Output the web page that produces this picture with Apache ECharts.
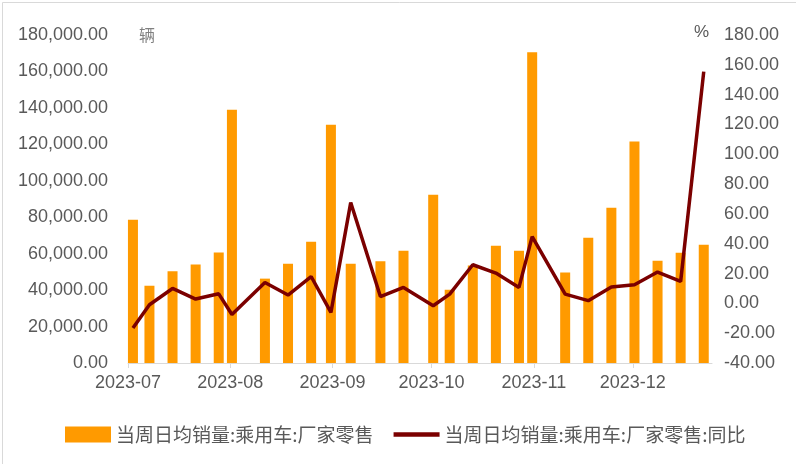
<!DOCTYPE html>
<html>
<head>
<meta charset="utf-8">
<script src="https://cdn.jsdelivr.net/npm/echarts@6/dist/echarts.min.js"></script>
<style>
html,body{margin:0;padding:0;background:#fff;}
#main{width:796px;height:464px;}
</style>
</head>
<body>
<div id="main"></div>
<script>
// Week-end dates (x positions on a date axis)
const dates = ['2023-07-02','2023-07-07','2023-07-14','2023-07-21','2023-07-28','2023-08-01',
  '2023-08-11','2023-08-18','2023-08-25','2023-08-31','2023-09-06','2023-09-15','2023-09-22',
  '2023-10-01','2023-10-06','2023-10-13','2023-10-20','2023-10-27','2023-10-31','2023-11-10',
  '2023-11-17','2023-11-24','2023-12-01','2023-12-08','2023-12-15','2023-12-22'];
// 当周日均销量:乘用车:厂家零售 (辆)
const sales = [78600, 42400, 50300, 54000, 60700, 139000,
  46300, 54500, 66600, 130800, 54500, 55800, 61600,
  92400, 40200, 53500, 64400, 61600, 170500, 49600,
  68800, 85200, 121500, 56100, 60500, 64900];
// 当周日均销量:乘用车:厂家零售:同比 (%)
const yoy = [-16.6, -0.9, 10.0, 2.9, 6.4, -7.5,
  14.0, 5.6, 18.0, -6.1, 67.6, 4.6, 10.7,
  -1.6, 6.2, 25.9, 20.3, 10.7, 44.8, 6.2,
  1.8, 10.9, 12.5, 21.0, 14.7, 155.4];
const seriesNames = ['当周日均销量:乘用车:厂家零售', '当周日均销量:乘用车:厂家零售:同比'];
const leftUnit = '辆';
const rightUnit = '%';
const axisStart = '2023-07-01';
const axisEnd = '2023-12-25';

const font = 'Liberation Sans, Arial, sans-serif';
const gray = '#595959';
function fmt(v){
  return v.toLocaleString('en-US', {minimumFractionDigits:2, maximumFractionDigits:2});
}
// ECharts widens a time axis that carries bars by the bar width; pre-shrink the
// extent so that after that widening the axis spans exactly axisStart..axisEnd.
const gridLeft = 128, gridRight = 84, barW = 10;
const axisLen = 796 - gridLeft - gridRight;
const t0 = +echarts.number.parseDate(axisStart);
const t1 = +echarts.number.parseDate(axisEnd);
const R = t1 - t0;
const pad = (R - R * (1 - barW / axisLen)) / 2;

const chart = echarts.init(document.getElementById('main'), null, {renderer:'canvas'});
chart.setOption({
  animation: false,
  backgroundColor: '#fff',
  grid: {left: gridLeft, right: gridRight, top: 35, bottom: 101, containLabel: false},
  legend: {
    left: 60, top: 420,
    itemWidth: 46, itemHeight: 16, itemGap: 20, itemTextGap: 4,
    symbolKeepAspect: true,
    textStyle: {fontFamily: 'Noto Sans CJK SC', fontSize: 19, color: gray},
    data: [
      {name: seriesNames[0], icon: 'rect'},
      {name: seriesNames[1], icon: 'path://M0,0 L42,0 L42,4 L0,4 Z'}
    ]
  },
  xAxis: {
    type: 'time',
    min: t0 + pad,
    max: t1 - pad,
    splitNumber: 6,
    minInterval: 28*86400000,
    maxInterval: 31*86400000,
    axisLine: {show: true, lineStyle: {color: '#d9d9d9', width: 1}},
    axisTick: {show: true, length: 5, lineStyle: {color: '#d9d9d9'}},
    splitLine: {show: false},
    axisLabel: {
      margin: 11, fontFamily: font, fontSize: 18, color: gray,
      formatter: function(v){ return echarts.time.format(v, '{yyyy}-{MM}', false); }
    }
  },
  yAxis: [{
    type: 'value', min: 0, max: 180000, interval: 20000,
    axisLine: {show: false}, axisTick: {show: false}, splitLine: {show: false},
    axisLabel: {margin: 20, fontFamily: font, fontSize: 18, color: gray, formatter: fmt}
  }, {
    type: 'value', min: -40, max: 180, interval: 20,
    axisLine: {show: false}, axisTick: {show: false}, splitLine: {show: false},
    axisLabel: {margin: 12, fontFamily: font, fontSize: 18, color: gray, formatter: fmt}
  }],
  series: [{
    name: seriesNames[0], type: 'bar', yAxisIndex: 0,
    barWidth: barW,
    itemStyle: {color: '#FF9A00'},
    data: dates.map((d, i) => [d + ' 12:00', sales[i]])
  }, {
    name: seriesNames[1], type: 'line', yAxisIndex: 1,
    symbol: 'none', showSymbol: false,
    lineStyle: {color: '#7B0000', width: 3.5},
    itemStyle: {color: '#7B0000'},
    data: dates.map((d, i) => [d + ' 12:00', yoy[i]])
  }],
  graphic: [
    {type: 'rect', left: 0, top: 0, shape: {x: 0.5, y: 0.5, width: 795, height: 463},
      style: {fill: 'none', stroke: '#d9d9d9', lineWidth: 1}, silent: true},
    {type: 'text', left: 139, top: 27, style: {text: leftUnit, font: '16px "Noto Sans CJK SC"', fill: '#808080'}},
    {type: 'text', left: 694, top: 24, style: {text: rightUnit, font: '17px ' + font, fill: gray}}
  ]
});
</script>
</body>
</html>
